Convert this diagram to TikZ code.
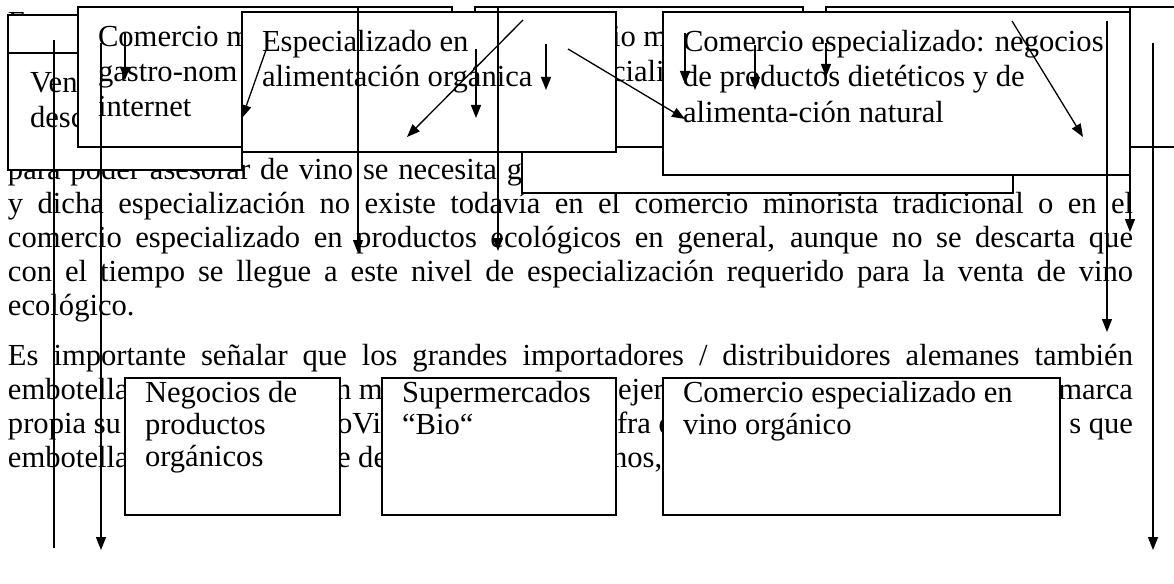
\documentclass[tikz,border=0pt]{standalone}
\usepackage{fontspec}
\setmainfont{Liberation Serif}
\usetikzlibrary{arrows.meta}
\begin{document}
\begin{tikzpicture}[x=1pt,y=-1pt,
  txt/.style={anchor=base west, inner sep=0pt, outer sep=0pt, font=\fontsize{30.6}{35}\selectfont},
  txtr/.style={txt, anchor=base east},
  boxn/.style={draw, fill=white, line width=1.4pt, inner sep=0pt, outer sep=0pt, anchor=north west},
  arr/.style={line width=1.3pt, -{Triangle[length=13pt,width=10pt]}},
  ln/.style={line width=1.3pt}]
\useasboundingbox (0,0) rectangle (1174,583);
\clip (0,0) rectangle (1174,583);
\fill[white] (0,0) rectangle (1174,583);
% ---------- body text ----------
\node[txt] (l0) at (8,33) {E};
\node[txt] (l1) at (8,179) {\makebox[514pt][s]{para poder asesorar de vino se necesita g}};
\node[txt] (l2) at (8,213) {\makebox[1125pt][s]{y dicha especialización no existe todavía en el comercio minorista tradicional o en el}};
\node[txt] (l3) at (8,247) {\makebox[1125pt][s]{comercio especializado en productos ecológicos en general, aunque no se descarta que}};
\node[txt] (l4) at (8,281) {\makebox[1125pt][s]{con el tiempo se llegue a este nivel de especialización requerido para la venta de vino}};
\node[txt] (l5) at (8,315) {ecológico.};
\node[txt] (l6) at (8,365) {\makebox[1125pt][s]{Es importante señalar que los grandes importadores / distribuidores alemanes también}};
\node[txt] (l7a) at (8,399) {embotella};
\node[txt] (l7b) at (336,399) {n m};
\node[txt] (l7c) at (618,399) {ejem};
\node[txtr] (l7d) at (1133,399) {marca};
\node[txt] (l8a) at (8,433) {propia su};
\node[txt] (l8b) at (337,433) {oVi};
\node[txt] (l8c) at (617,433) {fra d};
\node[txtr] (l8d) at (1133,433) {s que};
\node[txt] (l9a) at (8,467) {embotella};
\node[txt] (l9b) at (337,467) {e de};
\node[txt] (l9c) at (612,467) {nos,};
% ---------- top boxes ----------
\node[boxn, minimum width=491pt, minimum height=93pt] (G) at (522,100) {};
\node[boxn, minimum width=234pt, minimum height=155pt] (A) at (8,15) {};
\draw[ln] (A.west |- 0,53) -- (A.east |- 0,53);
\node[txt] (At1) at (30,93) {Ven};
\node[txt] (At2) at (30,128) {desc};
\node[boxn, minimum width=374pt, minimum height=140pt] (B) at (78,7) {};
\node[txt] (Bt1) at (98,47) {Comercio m};
\node[txt] (Bt2) at (98,82) {gastro-nom};
\node[txt] (Bt3) at (98,117) {internet};
\node[boxn, minimum width=328pt, minimum height=140pt] (E) at (475,7) {};
\node[txt] (Et1) at (612,47) {io m};
\node[txt] (Et2) at (612,82) {ciali};
\node[boxn, minimum width=360pt, minimum height=140pt] (H) at (826,7) {};
\node[boxn, minimum width=374pt, minimum height=140pt] (C) at (242,12) {};
\node[txt] (Ct1) at (262,52) {Especializado en};
\node[txt] (Ct2) at (262,87) {alimentación orgánica};
\node[boxn, minimum width=467pt, minimum height=163pt] (F) at (663,12) {};
\node[txt] (Ft1) at (683,52) {Comercio especializado: negocios};
\node[txt] (Ft2) at (683,87) {de productos dietéticos y de};
\node[txt] (Ft3) at (683,122) {alimenta-ción natural};
% ---------- bottom boxes ----------
\node[boxn, minimum width=215pt, minimum height=137pt] (N1) at (125,378) {};
\node[txt] (N1t1) at (145,402) {Negocios de};
\node[txt] (N1t2) at (145,434) {productos};
\node[txt] (N1t3) at (145,466) {orgánicos};
\node[boxn, minimum width=234pt, minimum height=137pt] (N2) at (382,378) {};
\node[txt] (N2t1) at (402,402) {Supermercados};
\node[txt] (N2t2) at (402,434) {“Bio“};
\node[boxn, minimum width=397pt, minimum height=137pt] (N3) at (663,378) {};
\node[txt] (N3t1) at (683,402) {Comercio especializado en};
\node[txt] (N3t2) at (683,434) {vino orgánico};
% ---------- connectors ----------
\coordinate (v1s) at (54,40);   \coordinate (v1e) at (54,548);
\coordinate (v2s) at (101,43);  \coordinate (v2e) at (101,550);
\coordinate (v3s) at (358,7);   \coordinate (v3e) at (358,253);
\coordinate (v4s) at (498,7);   \coordinate (v4e) at (498,251);
\coordinate (v5s) at (1107,21); \coordinate (v5e) at (1107,332);
\coordinate (v6s) at (1130,7);  \coordinate (v6e) at (1130,232);
\coordinate (v7s) at (1153,43); \coordinate (v7e) at (1153,550);
\draw[ln] (v1s) -- (v1e);
\draw[arr] (v2s) -- (v2e);
\draw[arr] (v3s) -- (v3e);
\draw[arr] (v4s) -- (v4e);
\draw[arr] (v5s) -- (v5e);
\draw[arr] (v6s) -- (v6e);
\draw[arr] (v7s) -- (v7e);
\coordinate (s1s) at (125,33);  \coordinate (s1e) at (125,80);
\coordinate (s2s) at (266,50);  \coordinate (s2e) at (242,118);
\coordinate (s3s) at (523,20);  \coordinate (s3e) at (407,137);
\coordinate (s4s) at (476,49);  \coordinate (s4e) at (476,118);
\coordinate (s5s) at (546,44);  \coordinate (s5e) at (546,90);
\coordinate (s6s) at (568,49);  \coordinate (s6e) at (685,119);
\coordinate (s7s) at (685,33);  \coordinate (s7e) at (685,84);
\coordinate (s8s) at (755,45);  \coordinate (s8e) at (755,90);
\coordinate (s9s) at (826,43);  \coordinate (s9e) at (826,77);
\coordinate (s10s) at (1012,21); \coordinate (s10e) at (1083,137);
\foreach \i in {1,...,10} {\draw[arr] (s\i s) -- (s\i e);}
\end{tikzpicture}
\end{document}
